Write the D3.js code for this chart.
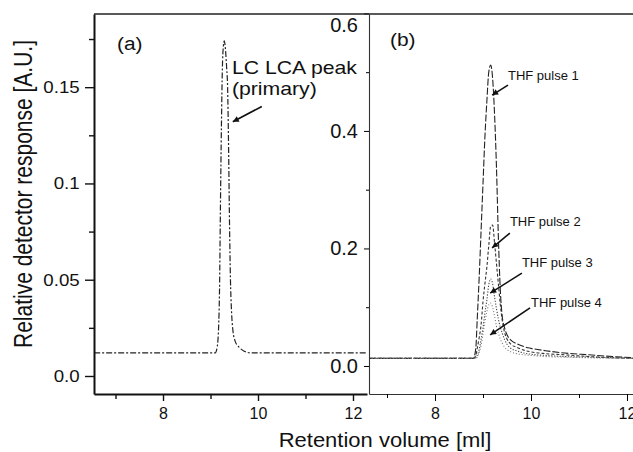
<!DOCTYPE html>
<html>
<head>
<meta charset="utf-8">
<script src="https://cdn.jsdelivr.net/npm/d3@7/dist/d3.min.js"></script>
<style>
  body { margin: 0; background: #fff; }
  text { font-family: "Liberation Sans", Arial, sans-serif; fill: #111; }
</style>
</head>
<body>
<div id="chart"></div>
<script>
// ---- DATA ----
// panel (a): LC LCA peak, retention volume [ml] vs response [A.U.]
var volA = [6.55, 8.0, 9.05, 9.10, 9.14, 9.17, 9.19, 9.21, 9.23, 9.25, 9.27, 9.29, 9.32, 9.34, 9.36,
            9.38, 9.40, 9.42, 9.44, 9.47, 9.52, 9.60, 9.70, 9.85, 11.0, 12.3];
var lcPeak = [0.012, 0.012, 0.012, 0.012, 0.015, 0.025, 0.045, 0.09, 0.13, 0.16, 0.171, 0.174, 0.168, 0.16, 0.15,
              0.12, 0.08, 0.05, 0.035, 0.024, 0.018, 0.015, 0.013, 0.012, 0.012, 0.012];

// panel (b): THF pulses 1-4
var volB = [6.62, 8.0, 8.80, 8.85, 8.88, 8.92, 8.96, 9.00, 9.04, 9.08, 9.12, 9.16, 9.20, 9.24, 9.28,
            9.32, 9.36, 9.40, 9.45, 9.50, 9.58, 9.70, 9.85, 10.0, 10.3, 10.7, 11.2, 11.7, 12.13];
var pulse1 = [0.013, 0.013, 0.013, 0.03, 0.08, 0.15, 0.23, 0.31, 0.39, 0.45, 0.50, 0.512, 0.49, 0.43, 0.34,
              0.22, 0.13, 0.085, 0.065, 0.053, 0.044, 0.038, 0.033, 0.030, 0.026, 0.022, 0.019, 0.016, 0.014];
var pulse2 = [0.013, 0.013, 0.013, 0.018, 0.03, 0.048, 0.07, 0.11, 0.14, 0.168, 0.205, 0.238, 0.240, 0.21, 0.175,
              0.14, 0.105, 0.078, 0.057, 0.046, 0.037, 0.032, 0.027, 0.024, 0.021, 0.019, 0.016, 0.014, 0.013];
var pulse3 = [0.013, 0.013, 0.013, 0.014, 0.018, 0.028, 0.045, 0.065, 0.09, 0.112, 0.138, 0.148, 0.14, 0.118, 0.098,
              0.08, 0.066, 0.056, 0.045, 0.037, 0.030, 0.026, 0.022, 0.020, 0.018, 0.016, 0.015, 0.014, 0.013];
var pulse4 = [0.013, 0.013, 0.013, 0.013, 0.015, 0.022, 0.035, 0.055, 0.075, 0.092, 0.104, 0.107, 0.10, 0.085, 0.068,
              0.056, 0.046, 0.039, 0.032, 0.028, 0.024, 0.021, 0.019, 0.018, 0.016, 0.015, 0.014, 0.013, 0.013];
var pulseNames = ["THF pulse 1", "THF pulse 2", "THF pulse 3", "THF pulse 4"];

// ticks
var xMajor = [8, 10, 12], xMinor = [7, 9, 11];
var yMajorA = [0, 0.05, 0.1, 0.15], yMinorA = [0.025, 0.075, 0.125, 0.175];
var yLabelsA = ["0.0", "0.05", "0.1", "0.15"];
var yMajorB = [0, 0.2, 0.4, 0.6], yMinorB = [0.1, 0.3, 0.5];
var yLabelsB = ["0.0", "0.2", "0.4", "0.6"];

// annotation anchors, in data units [volume, response]
var peakLabelAt = [9.45, 0.157];
var peakArrow = [[10.08, 0.140], [9.47, 0.132]];
var pulseLabelAt = [[9.52, 0.487], [9.56, 0.238], [9.81, 0.168], [10.0, 0.100]];
var pulseArrows = [[[9.52, 0.478], [9.19, 0.461]], [[9.56, 0.226], [9.19, 0.201]],
                   [[9.81, 0.158], [9.15, 0.124]], [[9.98, 0.099], [9.15, 0.053]]];

// ---- LAYOUT ----
var W = 633, H = 452;
var plotTop = 14, plotBottom = 394;
var aLeft = 94, aRight = 367, bLeft = 369, bRight = 633;

var xA = d3.scaleLinear().domain([6.547, 12.295]).range([aLeft, aRight]);
var yA = d3.scaleLinear().domain([-0.00935, 0.188]).range([plotBottom, plotTop]);
var xB = d3.scaleLinear().domain([6.625, 12.125]).range([bLeft, bRight]);
var yB = d3.scaleLinear().domain([-0.0477, 0.599]).range([plotBottom, plotTop]);

var svg = d3.select("#chart").append("svg")
  .attr("width", W)
  .attr("height", H);

var defs = svg.append("defs");
defs.append("clipPath").attr("id", "clipA").append("rect")
  .attr("x", aLeft).attr("y", plotTop).attr("width", aRight - aLeft).attr("height", plotBottom - plotTop);
defs.append("clipPath").attr("id", "clipB").append("rect")
  .attr("x", bLeft).attr("y", plotTop).attr("width", bRight - bLeft).attr("height", plotBottom - plotTop);
defs.append("marker")
  .attr("id", "head")
  .attr("viewBox", "0 0 10 10")
  .attr("refX", 10).attr("refY", 5)
  .attr("markerWidth", 8).attr("markerHeight", 6)
  .attr("markerUnits", "userSpaceOnUse")
  .attr("orient", "auto")
  .append("path")
  .attr("d", "M0,0L10,5L0,10Z")
  .attr("fill", "#111");

// small helper: text with a horizontal stretch (the figure's type is wide)
function label(x, y, str, size, sx, anchor) {
  return svg.append("text")
    .attr("transform", "translate(" + x + "," + y + ") scale(" + sx + ",1)")
    .attr("text-anchor", anchor || "start")
    .style("font-size", size + "px")
    .text(str);
}

// ---- PANEL (a) ----
var lineA = d3.line()
  .x(function(d, i) { return xA(volA[i]); })
  .y(function(d) { return yA(d); })
  .curve(d3.curveMonotoneX);

svg.append("path")
  .datum(lcPeak)
  .attr("clip-path", "url(#clipA)")
  .attr("d", lineA)
  .attr("fill", "none")
  .attr("stroke", "#222")
  .attr("stroke-width", 1.2)
  .attr("stroke-dasharray", "6,2,2,2");

// x axis (a)
var gxA = svg.append("g")
  .attr("transform", "translate(0," + plotBottom + ")")
  .call(d3.axisBottom(xA).tickValues(xMajor).tickSize(7).tickPadding(7).tickSizeOuter(0).tickFormat(d3.format("d")));
svg.append("g")
  .attr("transform", "translate(0," + plotBottom + ")")
  .call(d3.axisBottom(xA).tickValues(xMinor).tickSize(5).tickFormat(""))
  .select(".domain").remove();

// y axis (a)
var gyA = svg.append("g")
  .attr("transform", "translate(" + aLeft + ",0)")
  .call(d3.axisLeft(yA).tickValues(yMajorA).tickSize(9).tickPadding(4).tickSizeOuter(0)
    .tickFormat(function(d, i) { return yLabelsA[i]; }));
svg.append("g")
  .attr("transform", "translate(" + aLeft + ",0)")
  .call(d3.axisLeft(yA).tickValues(yMinorA).tickSize(5).tickFormat(""))
  .select(".domain").remove();

gyA.selectAll("text").style("font-size", "17px").attr("transform", "scale(1.1,1)");
gxA.selectAll("text").style("font-size", "16px");
[gxA, gyA].forEach(function(g) {
  g.select(".domain").attr("stroke", "#111").attr("stroke-width", 2);
});
svg.selectAll("g .tick line").attr("stroke", "#111").attr("stroke-width", 1.4);

// annotations (a)
label(117, 50, "(a)", 19, 1.1);
label(xA(peakLabelAt[0]), yA(peakLabelAt[1]), "LC LCA peak", 18, 1.18);
label(xA(peakLabelAt[0]), yA(peakLabelAt[1]) + 21, "(primary)", 18, 1.18);
svg.append("line")
  .attr("x1", xA(peakArrow[0][0])).attr("y1", yA(peakArrow[0][1]))
  .attr("x2", xA(peakArrow[1][0])).attr("y2", yA(peakArrow[1][1]))
  .attr("stroke", "#111").attr("stroke-width", 1.6)
  .attr("marker-end", "url(#head)");

// ---- PANEL (b) ----
var lineB = d3.line()
  .x(function(d, i) { return xB(volB[i]); })
  .y(function(d) { return yB(d); })
  .curve(d3.curveMonotoneX);

var pulseStyles = [
  { dash: "7,2", color: "#222", w: 1.1 },
  { dash: "3,2", color: "#333", w: 1.1 },
  { dash: "1.2,1.6", color: "#444", w: 1.1 },
  { dash: "1,2", color: "#777", w: 1.1 }
];
[pulse1, pulse2, pulse3, pulse4].forEach(function(series, k) {
  svg.append("path")
    .datum(series)
    .attr("clip-path", "url(#clipB)")
    .attr("d", lineB)
    .attr("fill", "none")
    .attr("stroke", pulseStyles[k].color)
    .attr("stroke-width", pulseStyles[k].w)
    .attr("stroke-dasharray", pulseStyles[k].dash);
});

// x axis (b)
var gxB = svg.append("g")
  .attr("transform", "translate(0," + plotBottom + ")")
  .call(d3.axisBottom(xB).tickValues(xMajor).tickSize(7).tickPadding(7).tickSizeOuter(0).tickFormat(d3.format("d")));
svg.append("g")
  .attr("transform", "translate(0," + plotBottom + ")")
  .call(d3.axisBottom(xB).tickValues(xMinor).tickSize(4).tickFormat(""))
  .select(".domain").remove();

// y axis (b)
var gyB = svg.append("g")
  .attr("transform", "translate(" + bLeft + ",0)")
  .call(d3.axisLeft(yB).tickValues(yMajorB).tickSize(5).tickPadding(6).tickSizeOuter(0)
    .tickFormat(function(d, i) { return yLabelsB[i]; }));
svg.append("g")
  .attr("transform", "translate(" + bLeft + ",0)")
  .call(d3.axisLeft(yB).tickValues(yMinorB).tickSize(3).tickFormat(""))
  .select(".domain").remove();

gyB.selectAll("text").style("font-size", "20px");
gyB.selectAll("text").filter(function(d) { return d === 0.6; }).attr("dy", "0.92em");
gxB.selectAll("text").style("font-size", "16px");
[gxB, gyB].forEach(function(g) {
  g.select(".domain").attr("stroke", "#333").attr("stroke-width", 1.1);
});

// top frame line over both panels
svg.append("line")
  .attr("x1", aLeft).attr("x2", W)
  .attr("y1", plotTop).attr("y2", plotTop)
  .attr("stroke", "#222").attr("stroke-width", 1.5);

// annotations (b)
label(390, 46, "(b)", 19, 1.1);
pulseNames.forEach(function(name, k) {
  label(xB(pulseLabelAt[k][0]), yB(pulseLabelAt[k][1]), name, 13, 1.0);
  svg.append("line")
    .attr("x1", xB(pulseArrows[k][0][0])).attr("y1", yB(pulseArrows[k][0][1]))
    .attr("x2", xB(pulseArrows[k][1][0])).attr("y2", yB(pulseArrows[k][1][1]))
    .attr("stroke", "#111").attr("stroke-width", 1.6)
    .attr("marker-end", "url(#head)");
});

// ---- AXIS TITLES ----
label(385, 447, "Retention volume [ml]", 20, 1.1, "middle");
svg.append("text")
  .attr("transform", "translate(32,194) scale(1.2,1) rotate(-90)")
  .attr("text-anchor", "middle")
  .style("font-size", "21px")
  .text("Relative detector response [A.U.]");
</script>
</body>
</html>
